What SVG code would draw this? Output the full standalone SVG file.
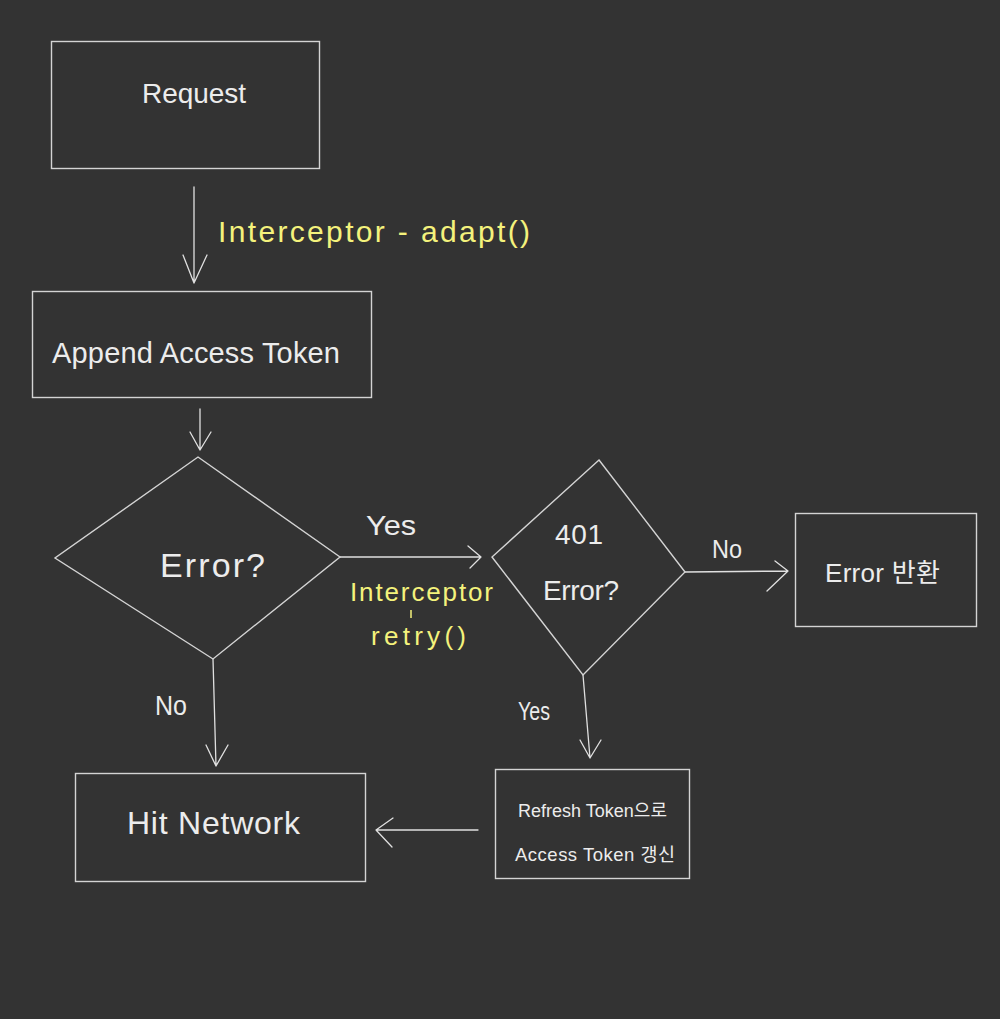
<svg xmlns="http://www.w3.org/2000/svg" width="1000" height="1019" viewBox="0 0 1000 1019">
<style>
.bg{fill:#333333}
.box{fill:none;stroke:#d4d4d4;stroke-width:1.4}
.ln{fill:none;stroke:#e0e0e0;stroke-width:1.3;stroke-linecap:round;stroke-linejoin:round}
.t{font-family:"Liberation Sans","Noto Sans CJK KR",sans-serif;fill:#ececec;font-weight:normal}
.y{font-family:"Liberation Sans","Noto Sans CJK KR",sans-serif;fill:#f4f27c}
</style>
<rect class="bg" x="0" y="0" width="1000" height="1019"/>
<g id="connectors">
  <path class="ln" d="M194,187 L194,283 M183,255 L194,283 L207,255"/>
  <path class="ln" d="M200,409 L200,450 M190,432 L200,450 L211,432"/>
  <path class="ln" d="M340,557 L481,557 M468,546 L481,557 L470,568"/>
  <path class="ln" d="M685,572 L788,571 M775,561 L788,571 L767,591"/>
  <path class="ln" d="M583,675 L590,758 M580,740 L590,758 L601,740"/>
  <path class="ln" d="M478,830 L376,830 M393,818 L376,830 L392,847"/>
  <path class="ln" d="M213,659 L216,766 M206,745 L216,766 L228,745"/>
  <text class="y" x="218" y="242" font-size="30" textLength="312" lengthAdjust="spacing">Interceptor - adapt()</text>
  <text class="t" x="366" y="535" font-size="28" textLength="50" lengthAdjust="spacingAndGlyphs">Yes</text>
  <text class="y" x="350" y="601" font-size="26" textLength="143" lengthAdjust="spacing">Interceptor</text>
  <line x1="411" y1="610" x2="411" y2="618" stroke="#f4f27c" stroke-width="1.5"/>
  <text class="y" x="371" y="645" font-size="26" textLength="95" lengthAdjust="spacing">retry()</text>
  <text class="t" x="712" y="558" font-size="26" textLength="30" lengthAdjust="spacingAndGlyphs">No</text>
  <text class="t" x="518" y="720" font-size="26" textLength="32" lengthAdjust="spacingAndGlyphs">Yes</text>
  <text class="t" x="155" y="715" font-size="28" textLength="32" lengthAdjust="spacingAndGlyphs">No</text>
</g>
<g id="request">
  <rect class="box" x="51.5" y="41.5" width="268" height="127"/>
  <text class="t" x="194" y="103" font-size="28" text-anchor="middle" textLength="104" lengthAdjust="spacing">Request</text>
</g>
<g id="append-access-token">
  <rect class="box" x="32.5" y="291.5" width="339" height="106"/>
  <text class="t" x="52" y="363" font-size="29" textLength="288" lengthAdjust="spacing">Append Access Token</text>
</g>
<g id="error-decision">
  <polygon class="box" points="198,457 340,557 213,659 55,558"/>
  <text class="t" x="160" y="577" font-size="34" textLength="105" lengthAdjust="spacing">Error?</text>
</g>
<g id="error401-decision">
  <polygon class="box" points="599,460 685,572 583,675 492,557"/>
  <text class="t" x="555" y="544" font-size="28" textLength="48" lengthAdjust="spacing">401</text>
  <text class="t" x="543" y="600" font-size="28" textLength="76" lengthAdjust="spacing">Error?</text>
</g>
<g id="error-return">
  <rect class="box" x="795.5" y="513.5" width="181" height="113"/>
  <text class="t" x="825" y="582" font-size="26" textLength="115" lengthAdjust="spacing">Error 반환</text>
</g>
<g id="refresh">
  <rect class="box" x="495.5" y="769.5" width="194" height="109"/>
  <text class="t" x="518" y="817" font-size="18" textLength="149" lengthAdjust="spacing">Refresh Token으로</text>
  <text class="t" x="515" y="861" font-size="18.5" textLength="160" lengthAdjust="spacing">Access Token 갱신</text>
</g>
<g id="hit-network">
  <rect class="box" x="75.5" y="773.5" width="290" height="108"/>
  <text class="t" x="127" y="834" font-size="32" textLength="173" lengthAdjust="spacing">Hit Network</text>
</g>
</svg>
